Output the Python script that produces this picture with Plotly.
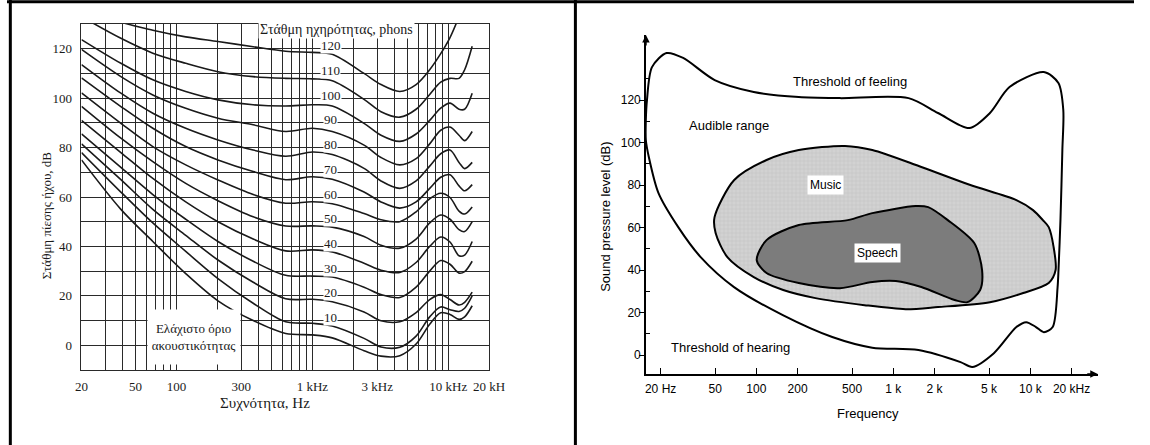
import math
import plotly.graph_objects as go

W, H = 1150, 445

# ---------------- left panel: equal-loudness contours ----------------
eq_freq = [20, 39, 67, 117, 202, 367, 636, 1000, 1400, 2400, 3200, 4400, 5800, 7300, 8800, 10300, 12000, 13200, 15000]
phon_120 = [137.5, 130.8, 127.5, 124.8, 122.9, 120.8, 119.0, 118.5, 117.8, 110.0, 105.5, 102.7, 105.5, 111.5, 118.0, 124.5, 133.0, None, None]
phon_110 = [133.0, 124.2, 118.2, 114.1, 110.7, 108.7, 108.0, 107.8, 107.0, 99.5, 94.5, 92.3, 95.5, 101.5, 106.5, 108.0, 108.0, 111.5, 121.0]
phon_100 = [123.7, 114.1, 107.4, 102.7, 99.3, 97.3, 96.8, 97.3, 96.8, 89.8, 85.0, 82.5, 85.5, 91.0, 96.0, 98.0, 95.5, 95.5, 102.0]
phon_90 = [119.7, 108.7, 101.3, 95.9, 91.9, 89.2, 86.5, 87.8, 86.5, 81.0, 76.0, 73.0, 75.5, 81.5, 87.0, 88.3, 85.0, 82.8, 86.5]
phon_80 = [113.6, 102.0, 93.9, 87.8, 83.1, 79.0, 76.5, 78.2, 77.2, 71.6, 66.5, 63.5, 66.5, 72.5, 77.5, 79.0, 74.0, 71.5, 74.0]
phon_70 = [108.2, 96.6, 87.8, 80.4, 75.0, 70.3, 67.0, 68.2, 67.2, 62.0, 58.0, 55.5, 58.0, 63.5, 68.0, 69.0, 64.5, 62.5, 65.0]
phon_60 = [102.1, 89.8, 80.4, 73.0, 66.9, 61.0, 57.5, 58.1, 57.3, 53.3, 50.8, 50.0, 54.0, 59.3, 61.5, 59.8, 54.3, 53.1, 56.0]
phon_50 = [96.7, 83.8, 74.3, 65.5, 58.5, 52.0, 48.3, 48.3, 47.8, 44.0, 40.5, 39.3, 43.0, 49.5, 52.7, 51.0, 46.8, 46.0, 50.0]
phon_40 = [91.0, 78.0, 67.5, 58.0, 50.0, 43.0, 38.2, 38.6, 37.8, 33.2, 30.4, 29.5, 33.5, 40.0, 43.8, 41.8, 36.2, 36.5, 42.0]
phon_30 = [85.5, 72.0, 61.0, 51.0, 42.0, 34.0, 28.3, 28.0, 27.6, 23.5, 20.5, 19.3, 23.5, 30.0, 34.3, 32.8, 29.2, 29.8, 34.0]
phon_20 = [81.5, 67.0, 55.0, 44.5, 34.5, 25.5, 18.8, 18.6, 17.6, 13.5, 9.9, 9.5, 13.2, 18.5, 20.5, 18.5, 16.3, 17.4, 21.5]
phon_10 = [78.0, 62.0, 49.5, 38.0, 27.0, 17.0, 9.5, 8.9, 7.8, 2.8, -0.7, -0.8, 3.7, 11.5, 15.5, 14.4, 13.7, 15.0, 20.0]
phon_threshold = [75.0, 55.0, 42.0, 29.0, 18.0, 10.0, 4.8, 4.2, 3.0, -2.2, -4.4, -4.2, 0.5, 8.5, 13.2, 12.5, 10.5, 11.5, 16.0]
phon_levels = [120, 110, 100, 90, 80, 70, 60, 50, 40, 30, 20, 10]

left_grid_freqs = ([20, 30, 40, 50, 60, 70, 80, 90, 100, 200, 300, 400, 500, 600, 700, 800, 900,
                    1000, 2000, 3000, 4000, 5000, 6000, 7000, 8000, 9000, 10000, 20000])
left_tick_labels = {20: "20", 50: "50", 100: "100", 300: "300", 1000: "1 kHz",
                    3000: "3 kHz", 10000: "10 kHz", 20000: "20 kH"}
left_db_grid = list(range(-10, 131, 10))

# ---------------- right panel: auditory area ----------------
audible_f = [15.9, 17.3, 22.1, 29.2, 49.6, 95.7, 204, 408, 1291, 2118, 3589, 5070, 7047, 12540, 16030,
             17400, 17130, 16590, 16050, 15810, 14560, 12550, 10990, 9330, 7910, 5420, 3770, 3094, 1524,
             701, 358, 156, 68.7, 39.2, 26.9, 19.3, 16.4, 15.6, 15.6, 15.9]
audible_db = [120, 135.5, 142.1, 139.8, 129.4, 123.8, 121.4, 120.9, 120.9, 113.9, 106.8, 113.9, 126.1, 133.2, 128,
              115.3, 96.5, 63.5, 40, 32, 13.2, 10.8, 13.2, 15.5, 13.2, 0.9, -5.6, -3.3, 2.4,
              3.5, 8.5, 18.8, 32, 46.1, 60.2, 76.2, 93.2, 101.2, 110.6, 120]
music_f = [49.5, 68.9, 118.6, 204, 443, 702, 1600, 3646, 7907, 10460, 12340, 13620, 14790, 15290, 13620,
           8875, 5069, 2118, 1229, 616, 270, 157, 95.7, 61.4, 50.4, 49.5]
music_db = [64.9, 82.4, 91.8, 96.5, 98.4, 96.5, 88.5, 80, 72.9, 68.2, 63.5, 60.2, 50.8, 40, 33.9,
            29.2, 24.9, 22.6, 21.6, 23.5, 26.8, 30.6, 36.7, 46.1, 57.4, 64.9]
speech_f = [100.6, 118.6, 204, 465, 702, 1450, 1796, 2496, 3894, 4443, 4300, 3470, 2802, 1600, 1043,
            702, 408, 204, 118.6, 100.6]
speech_db = [44.7, 54.1, 61.2, 63.5, 66.8, 70.1, 69.6, 63.5, 52.7, 40, 30.6, 24.9, 25.9, 32, 34.8,
             34.4, 31.5, 33.9, 38.6, 44.7]
right_tick_freqs = [20, 50, 100, 200, 500, 1000, 2000, 5000, 10000, 20000]
right_tick_text = ["20 Hz", "50", "100", "200", "500", "1 k", "2 k", "5 k", "10 k", "20 kHz"]
right_db_ticks = [0, 20, 40, 60, 80, 100, 120]
right_db_minor = [10, 30, 50, 70, 90, 110, 130]


def px(x):
    return x / W


def py(y):
    return 1 - y / H


SERIF = "Liberation Serif, DejaVu Serif, serif"
SANS = "Liberation Sans, Arial, sans-serif"
INK = "#1a1a1a"

fig = go.Figure()

curves = [phon_120, phon_110, phon_100, phon_90, phon_80, phon_70, phon_60,
          phon_50, phon_40, phon_30, phon_20, phon_10, phon_threshold]
for vals in curves:
    fig.add_trace(go.Scatter(x=eq_freq, y=vals, mode="lines", xaxis="x", yaxis="y",
                             line=dict(color=INK, width=1.6, shape="spline", smoothing=0.9),
                             hoverinfo="skip", showlegend=False))

fig.add_trace(go.Scatter(x=audible_f, y=audible_db, mode="lines", xaxis="x2", yaxis="y2",
                         fill="toself", fillcolor="white",
                         line=dict(color="black", width=2, shape="spline", smoothing=0.8),
                         hoverinfo="skip", showlegend=False))
fig.add_trace(go.Scatter(x=music_f, y=music_db, mode="lines", xaxis="x2", yaxis="y2",
                         fill="toself", fillcolor="#c9c9c9",
                         fillpattern=dict(shape="+", size=4, solidity=0.25, fgcolor="#b4b4b4", bgcolor="#d2d2d2"),
                         line=dict(color="black", width=2, shape="spline", smoothing=0.8),
                         hoverinfo="skip", showlegend=False))
fig.add_trace(go.Scatter(x=speech_f, y=speech_db, mode="lines", xaxis="x2", yaxis="y2",
                         fill="toself", fillcolor="#7c7c7c",
                         line=dict(color="black", width=2, shape="spline", smoothing=0.8),
                         hoverinfo="skip", showlegend=False))

left_text = [left_tick_labels.get(f, "") for f in left_grid_freqs]
left_db_text = [str(v) if (v % 20 == 0 and 0 <= v <= 120) else "" for v in left_db_grid]


def note(text, x, y, family, size, **kw):
    d = dict(text=text, x=px(x), y=py(y), xref="paper", yref="paper", xanchor="center", yanchor="middle",
             showarrow=False, font=dict(family=family, size=size, color=INK if family == SERIF else "black"))
    d.update(kw)
    return d


annotations = []
# left panel texts
annotations.append(note("Στάθμη ηχηρότητας, phons", 336, 30, SERIF, 14, bgcolor="white", borderpad=1))
for lvl in phon_levels:
    annotations.append(dict(text=str(lvl), x=math.log10(1370), y=lvl + 1.2, xref="x", yref="y",
                            xanchor="center", yanchor="middle",
                            showarrow=False, font=dict(family=SERIF, size=13, color=INK),
                            bgcolor="white", borderpad=0))
annotations.append(note("Ελάχιστο όριο<br>ακουστικότητας", 191, 337, SERIF, 13,
                        bgcolor="white", width=92, height=54, borderpad=0))
annotations.append(note("Στάθμη πίεσης ήχου, dB", 40, 215, SERIF, 13, textangle=-90))
annotations.append(note("Συχνότητα, Hz", 263, 403, SERIF, 15))
# right panel texts
annotations.append(note("Threshold of feeling", 860, 82, SANS, 13))
annotations.append(note("Audible range", 737, 125, SANS, 13))
annotations.append(note("Threshold of hearing", 738, 347, SANS, 13))
annotations.append(note("Frequency", 879, 413, SANS, 13))
annotations.append(note("Music", 835, 185, SANS, 12, bgcolor="white", borderpad=2))
annotations.append(note("Speech", 888, 253, SANS, 12, bgcolor="white", borderpad=2))
annotations.append(note("Sound pressure level (dB)", 610, 217, SANS, 13, textangle=-90))
# axis arrows
annotations.append(dict(text="", x=0, y=1, xref="x2 domain", yref="y2 domain", ax=0, ay=12,
                        showarrow=True, arrowhead=2, arrowsize=1, arrowwidth=1.5, arrowcolor="black"))
annotations.append(dict(text="", x=1, y=0, xref="x2 domain", yref="y2 domain", ax=-12, ay=0,
                        showarrow=True, arrowhead=2, arrowsize=1, arrowwidth=1.5, arrowcolor="black"))

shapes = [
    # frame lines: top edge, left edge and the divider between the two pictures
    dict(type="line", xref="paper", yref="paper", x0=0, x1=1, y0=py(1.7), y1=py(1.7),
         line=dict(color="black", width=3)),
    dict(type="line", xref="paper", yref="paper", x0=px(3.4), x1=px(3.4), y0=0, y1=1,
         line=dict(color="black", width=3)),
    dict(type="line", xref="paper", yref="paper", x0=px(580), x1=px(580), y0=0, y1=1,
         line=dict(color="black", width=3)),
]

fig.update_layout(
    width=W, height=H, autosize=False, margin=dict(l=0, r=0, t=0, b=0),
    paper_bgcolor="white", plot_bgcolor="white", showlegend=False,
    xaxis=dict(type="log", range=[math.log10(20), math.log10(20000)], domain=[px(76), px(492)],
               anchor="y", tickvals=left_grid_freqs, ticktext=left_text, ticks="",
               showgrid=True, gridcolor="#2a2a2a", gridwidth=1, zeroline=False,
               showline=True, mirror=True, linecolor="#2a2a2a", linewidth=1,
               tickfont=dict(family=SERIF, size=13, color=INK), ticklabelstandoff=4),
    yaxis=dict(range=[-10, 130], domain=[py(370), py(24)], anchor="x",
               tickvals=left_db_grid, ticktext=left_db_text, ticks="",
               showgrid=True, gridcolor="#2a2a2a", gridwidth=1, zeroline=False,
               showline=True, mirror=True, linecolor="#2a2a2a", linewidth=1,
               tickfont=dict(family=SERIF, size=13, color=INK), ticklabelstandoff=6),
    xaxis2=dict(type="log", range=[1.194, 4.492], domain=[px(652), px(1113)], anchor="y2",
                tickvals=right_tick_freqs, ticktext=right_tick_text, ticks="inside", ticklen=6,
                tickwidth=1.2, tickcolor="black", showgrid=False, zeroline=False,
                showline=True, linecolor="black", linewidth=1.5,
                tickfont=dict(family=SANS, size=12, color="black"), ticklabelstandoff=3),
    yaxis2=dict(range=[-8.9, 150.6], domain=[py(374), py(35)], anchor="x2",
                tickvals=right_db_ticks, ticks="outside", ticklen=5, tickwidth=1.2, tickcolor="black",
                minor=dict(tickvals=right_db_minor, ticks="inside", ticklen=4, tickcolor="black", tickwidth=1),
                showgrid=False, zeroline=False, showline=True, linecolor="black", linewidth=1.5,
                tickfont=dict(family=SANS, size=12, color="black"), ticklabelstandoff=-4),
    annotations=annotations,
    shapes=shapes,
)

fig.write_html(
    "out.html",
    config={"responsive": False, "displayModeBar": False},
    post_script="document.body.style.margin='0px';document.body.style.overflow='hidden';",
)
